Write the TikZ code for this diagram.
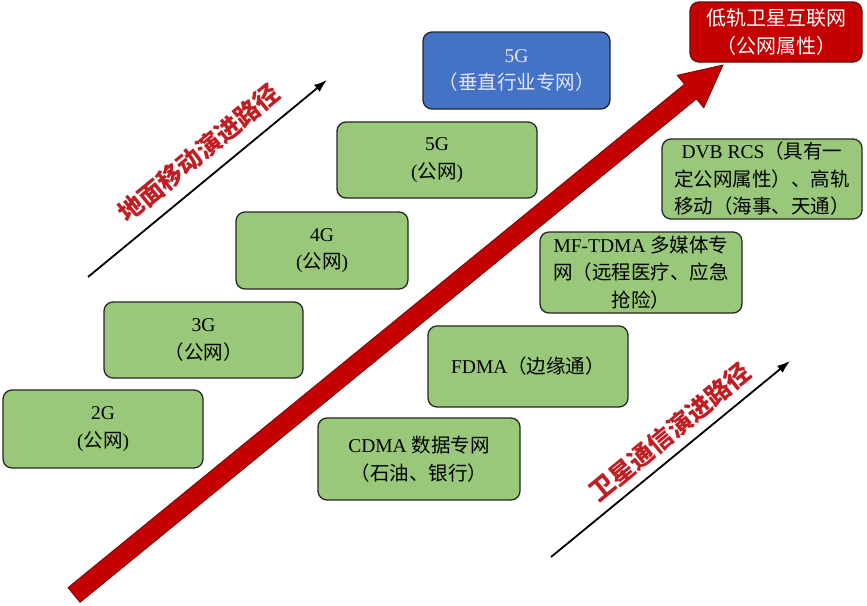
\documentclass[tikz,border=0pt]{standalone}
\usepackage{fontspec}
\setmainfont{Liberation Serif}
\newfontfamily\cjk{Noto Sans CJK SC}
\newcommand{\zh}[1]{{\cjk #1}}
\usetikzlibrary{calc,arrows.meta}
\definecolor{gfill}{RGB}{153,200,122}
\definecolor{bfill}{RGB}{68,114,196}
\definecolor{rfill}{RGB}{196,0,0}
\definecolor{rline}{RGB}{110,10,10}
\definecolor{rtext}{RGB}{192,30,35}
\begin{document}
\begin{tikzpicture}[x=1pt,y=-1pt,
  gbox/.style={draw=black!85,fill=gfill,rounded corners=9pt,line width=1.3pt,align=center,
    font=\fontsize{19.5}{27.5}\selectfont,inner sep=0pt},
  bbox/.style={gbox,fill=bfill,text=white!90!blue},
  rbox/.style={gbox,fill=rfill,draw=rline,text=white,font=\cjk\fontsize{20}{28}\selectfont},
  pathlabel/.style={text=rtext,font=\cjk\bfseries\fontsize{25}{25}\selectfont,rotate=39.5},
  blackarrow/.style={line width=1.8pt,-{Latex[length=13pt,width=9pt]}}]
\useasboundingbox (0,0) rectangle (867,605);
% boxes
\node[gbox,minimum width=200pt,minimum height=78pt] (g2) at (103,429) {2G\\(\zh{公网})};
\node[gbox,minimum width=199pt,minimum height=76pt] (g3) at (203.5,340) {3G\\\zh{（公网）}};
\node[gbox,minimum width=172pt,minimum height=77pt] (g4) at (322,250.5) {4G\\(\zh{公网})};
\node[gbox,minimum width=200pt,minimum height=76pt] (g5) at (437,160) {5G\\(\zh{公网})};
\node[bbox,minimum width=187pt,minimum height=77pt] (g5v) at (516.5,70.5) {5G\\\zh{（垂直行业专网）}};
\node[gbox,minimum width=202pt,minimum height=82pt] (cdma) at (419,459) {CDMA \zh{数据专网}\\\zh{（石油、银行）}};
\node[gbox,minimum width=200pt,minimum height=81pt] (fdma) at (528,366.5) {FDMA\zh{（边缘通）}};
\node[gbox,minimum width=202pt,minimum height=81pt] (mf) at (641,272.5) {MF-TDMA \zh{多媒体专}\\\zh{网（远程医疗、应急}\\\zh{抢险）}};
\node[gbox,minimum width=200pt,minimum height=80pt] (dvb) at (762,179) {DVB RCS\zh{（具有一}\\\zh{定公网属性）、高轨}\\\zh{移动（海事、天通）}};
\node[rbox,minimum width=172pt,minimum height=60pt] (leo) at (776,32) {低轨卫星互联网\\（公网属性）};
% big red arrow
\coordinate (T) at (74,595);
\coordinate (P) at (723,65);
\coordinate (B) at ($(P)!42pt!(T)$);
\fill[rfill,draw=rline,line width=0.8pt,line join=miter]
  ($(T)!9.5pt!90:(P)$) -- ($(B)!9.5pt!-90:(T)$) -- ($(B)!21pt!-90:(T)$) -- (P)
  -- ($(B)!21pt!90:(T)$) -- ($(B)!9.5pt!90:(T)$) -- ($(T)!9.5pt!-90:(P)$) -- cycle;
% black arrows
\coordinate (la) at (88,277);
\coordinate (lb) at (327,80);
\draw[blackarrow] (la) -- (lb);
\coordinate (ra) at (551,557);
\coordinate (rb) at (790,361);
\draw[blackarrow] (ra) -- (rb);
% path labels
\node[pathlabel] (lt) at (199,153) {地面移动演进路径};
\node[pathlabel] (rt) at (670,432) {卫星通信演进路径};
\end{tikzpicture}
\end{document}
